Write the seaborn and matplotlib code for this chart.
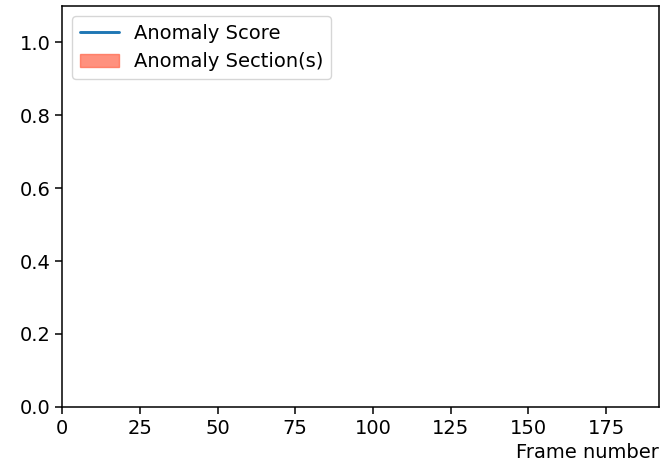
import numpy as np
import matplotlib
matplotlib.use("Agg")
import matplotlib.pyplot as plt
import seaborn as sns

# frame range and (empty) score / anomaly data as seen in the chart
frame_count   = 192
frames        = []
scores        = []
anomaly_start = []
anomaly_end   = []

sns.set_style("ticks")
plt.rcParams["font.family"]     = ["DejaVu Sans"]
plt.rcParams["font.size"]       = 14
plt.rcParams["text.color"]      = "black"
plt.rcParams["axes.labelcolor"] = "black"

C_LINE = "#1f77b4"
C_SPAN = "tomato"

fig = plt.figure(figsize=(6.61, 4.66), dpi=100)
ax = fig.add_axes([0.094, 0.127, 0.903, 0.86])

ax.plot(frames, scores, color=C_LINE, linewidth=2.1, label="Anomaly Score")
ax.fill_between(frames, 0, scores, color=C_SPAN, alpha=0.7,
                label="Anomaly Section(s)")
for s, e in zip(anomaly_start, anomaly_end):
    ax.axvspan(s, e, color=C_SPAN, alpha=0.7)

ax.set_xlim(0, frame_count)
ax.set_ylim(0, 1.1)
ax.set_xticks(np.arange(0, 176, 25))
ax.set_yticks(np.arange(0, 1.01, 0.2))
ax.tick_params(labelsize=14, colors="black", length=5, width=1.1)
for sp in ax.spines.values():
    sp.set_color("black")
    sp.set_linewidth(1.1)
ax.set_xlabel("Frame number", loc="right", fontsize=14, labelpad=4)
ax.legend(loc="upper left", fontsize=14)

plt.savefig("out.png", dpi=100)
plt.close()
